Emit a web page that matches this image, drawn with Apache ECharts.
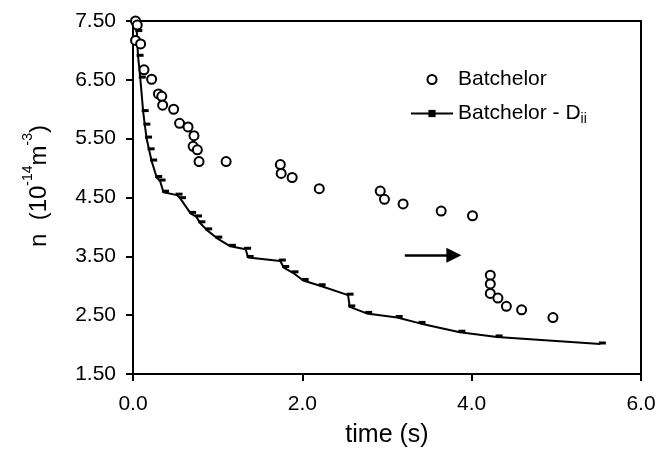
<!DOCTYPE html>
<html>
<head>
<meta charset="utf-8">
<script src="https://cdn.jsdelivr.net/npm/echarts@6/dist/echarts.min.js"></script>
<style>
html,body{margin:0;padding:0;background:#fff;}
#chart{width:670px;height:453px;}
</style>
</head>
<body>
<div id="chart"></div>
<script>
// ---- data ----
const timeBatchelor = [0.03,0.05,0.03,0.09,0.13,0.22,0.30,0.34,0.35,0.48,0.55,0.65,0.72,0.71,0.76,0.78,1.10,1.74,1.75,1.88,2.20,2.92,2.97,3.19,3.64,4.01,4.22,4.22,4.22,4.31,4.41,4.59,4.96];
const nBatchelor    = [7.50,7.43,7.17,7.11,6.67,6.51,6.26,6.22,6.07,6.00,5.76,5.70,5.55,5.37,5.31,5.11,5.11,5.06,4.91,4.84,4.65,4.61,4.47,4.39,4.27,4.19,3.18,3.03,2.87,2.79,2.65,2.59,2.46];

const timeDii = [0.015,0.045,0.05,0.06,0.086,0.12,0.14,0.16,0.19,0.22,0.28,0.32,0.36,0.52,0.56,0.68,0.75,0.79,0.87,0.99,1.15,1.33,1.36,1.74,1.78,1.89,2.01,2.21,2.54,2.56,2.76,3.12,3.39,3.86,4.30,5.52];
const nDii    = [7.47,7.32,7.13,6.90,6.53,5.96,5.73,5.51,5.31,5.12,4.84,4.78,4.59,4.54,4.48,4.23,4.17,4.07,3.95,3.81,3.67,3.62,3.48,3.42,3.31,3.22,3.09,3.00,2.84,2.64,2.53,2.46,2.36,2.21,2.13,2.01];

const xTickValues = [0, 2, 4, 6];
const yTickValues = [1.5, 2.5, 3.5, 4.5, 5.5, 6.5, 7.5];

const seriesNames = ['Batchelor', 'Batchelor - Dii'];
const arrowFrom = [3.21, 3.52];
const arrowTo   = [3.79, 3.52];

// ---- chart ----
const FONT = '"Liberation Sans", Arial, Helvetica, sans-serif';
const chart = echarts.init(document.getElementById('chart'), null, {renderer: 'canvas'});

const zip = (a, b) => a.map((v, i) => [v, b[i]]);

const option = {
  backgroundColor: '#ffffff',
  animation: false,
  grid: {
    left: 133, top: 21, width: 508, height: 359,
    show: true, borderColor: '#000', borderWidth: 2, backgroundColor: 'transparent'
  },
  xAxis: {
    type: 'value',
    min: xTickValues[0], max: xTickValues[xTickValues.length - 1],
    interval: xTickValues[1] - xTickValues[0],
    splitLine: {show: false},
    axisLine: {show: true, onZero: false, lineStyle: {color: '#000', width: 2}},
    axisTick: {show: true, length: 7, inside: false, lineStyle: {color: '#000', width: 2}},
    axisLabel: {color: '#000', fontSize: 21, fontFamily: FONT, margin: 20,
      formatter: v => v.toFixed(1)},
    name: 'time (s)',
    nameLocation: 'middle',
    nameGap: 49,
    nameTextStyle: {color: '#000', fontSize: 25, fontFamily: FONT}
  },
  yAxis: {
    type: 'value',
    min: yTickValues[0], max: yTickValues[yTickValues.length - 1],
    interval: yTickValues[1] - yTickValues[0],
    splitLine: {show: false},
    axisLine: {show: true, onZero: false, lineStyle: {color: '#000', width: 2}},
    axisTick: {show: true, length: 7, inside: false, lineStyle: {color: '#000', width: 2}},
    axisLabel: {color: '#000', fontSize: 21, fontFamily: FONT, margin: 17,
      formatter: v => v.toFixed(2)}
  },
  legend: {
    orient: 'vertical',
    left: 405, top: 64,
    itemWidth: 42, itemHeight: 9,
    itemGap: 13,
    data: seriesNames,
    formatter: name => name === 'Batchelor - Dii' ? '{a|Batchelor - D}{b|ii}' : '{a|' + name + '}',
    textStyle: {
      color: '#000', fontFamily: FONT, fontSize: 21,
      rich: {
        a: {fontSize: 21, fontFamily: FONT, color: '#000', lineHeight: 26, verticalAlign: 'middle'},
        b: {fontSize: 14, fontFamily: FONT, color: '#000', lineHeight: 13, verticalAlign: 'bottom'}
      }
    }
  },
  graphic: [{
    type: 'text',
    x: 36, y: 186,
    rotation: Math.PI / 2,
    style: {
      text: '{a|n  (10}{s|-14}{a|m}{s|-3}{a|)}',
      align: 'center', verticalAlign: 'middle',
      textAlign: 'center', textVerticalAlign: 'middle',
      fill: '#000',
      rich: {
        a: {fontSize: 24, fontFamily: FONT, fill: '#000', color: '#000', lineHeight: 30, verticalAlign: 'bottom'},
        s: {fontSize: 14, fontFamily: FONT, fill: '#000', color: '#000', lineHeight: 16, verticalAlign: 'top'}
      }
    }
  }],
  series: [
    {
      name: seriesNames[1],
      type: 'line',
      data: zip(timeDii, nDii),
      symbol: 'rect',
      symbolSize: [7, 3],
      symbolOffset: [2, -1],
      showSymbol: true,
      lineStyle: {color: '#000', width: 2},
      itemStyle: {color: '#000'},
      z: 2
    },
    {
      name: seriesNames[0],
      type: 'scatter',
      data: zip(timeBatchelor, nBatchelor),
      symbol: 'circle',
      symbolSize: 9,
      itemStyle: {color: '#fff', borderColor: '#000', borderWidth: 2, opacity: 1},
      z: 3,
      markLine: {
        silent: true,
        symbol: ['none', 'triangle'],
        symbolSize: [15, 15],
        label: {show: false},
        lineStyle: {color: '#000', width: 2.5, type: 'solid'},
        data: [[{coord: arrowFrom}, {coord: arrowTo}]]
      }
    }
  ]
};
chart.setOption(option);
</script>
</body>
</html>
